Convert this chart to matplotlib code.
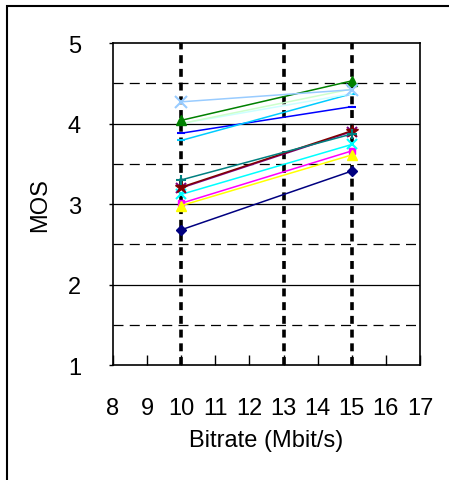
import matplotlib
matplotlib.use("Agg")
import matplotlib.pyplot as plt
from matplotlib.patches import Rectangle

plt.rcParams['font.family'] = ['Liberation Sans', 'DejaVu Sans']

# bitrates tested (Mbit/s)
bitrate = [10, 15]

# MOS per test sequence at 10 and 15 Mbit/s
mos_navy = [2.68, 3.41]
mos_magenta = [3.01, 3.66]
mos_yellow = [2.98, 3.61]
mos_cyan = [3.12, 3.74]
mos_purple = [3.20, 3.90]
mos_darkred = [3.21, 3.91]
mos_teal = [3.30, 3.87]
mos_blue = [3.88, 4.21]
mos_sky = [3.79, 4.37]
mos_lightcyan = [4.00, 4.37]
mos_lightgreen = [4.00, 4.43]
mos_green = [4.04, 4.53]
mos_paleblue = [4.27, 4.42]

xticks = list(range(8, 18))
yticks = [1, 2, 3, 4, 5]

series = [
    (mos_navy, '#000080', 'D', 5),
    (mos_magenta, '#FF00FF', 's', 5),
    (mos_yellow, '#FFFF00', '^', 7),
    (mos_cyan, '#00FFFF', 'x', 7),
    (mos_purple, '#800080', 'x', 7),
    (mos_darkred, '#800000', '*', 9),
    (mos_teal, '#008080', '+', 7),
    (mos_blue, '#0000FF', '_', 6),
    (mos_sky, '#00CCFF', '_', 6),
    (mos_lightcyan, '#CCFFFF', '', 0),
    (mos_lightgreen, '#CCFFCC', '', 0),
    (mos_green, '#008000', '^', 7),
    (mos_paleblue, '#99CCFF', 'x', 8),
]

fig = plt.figure(figsize=(4.49, 4.81), dpi=100)
ax = fig.add_axes([0.2517, 0.239, 0.6837, 0.6694])

# grid: solid at whole MOS, dashed at halves
for y in [2, 3, 4]:
    ax.axhline(y, color='black', lw=0.9, zorder=1)
for y in [1.5, 2.5, 3.5, 4.5]:
    ax.axhline(y, color='black', lw=0.9, ls=(0, (8, 5)), zorder=1)
for x in [10, 13, 15]:
    ax.axvline(x, color='black', lw=2.6, ls=(0, (2.2, 1.6)), zorder=1)

for vals, col, mk, ms in series:
    ax.plot(bitrate, vals, color=col, lw=1.1, marker=mk, markersize=ms,
            markeredgewidth=1.5 if mk in ('x', '+', '_') else 1.0,
            markeredgecolor=col, markerfacecolor=col, zorder=3)

ax.set_xlim(8, 17)
ax.set_ylim(1, 5)
ax.set_xticks(xticks)
ax.set_yticks(yticks)
ax.tick_params(axis='x', direction='in', length=7, width=1, pad=23, labelsize=17)
ax.tick_params(axis='y', direction='out', length=3, width=1, pad=20, labelsize=17)
for s in ax.spines.values():
    s.set_linewidth(1.2)

ax.set_xlabel('Bitrate (Mbit/s)', fontsize=17, labelpad=7)
ax.set_ylabel('MOS', fontsize=17, labelpad=12)

# outer chart frame
fig.patches.append(Rectangle((7 / 449, -0.2), 1.2, 1.2 - 7 / 481, transform=fig.transFigure,
                             fill=False, edgecolor='black', lw=1.5))

fig.savefig('out.png', dpi=100)
